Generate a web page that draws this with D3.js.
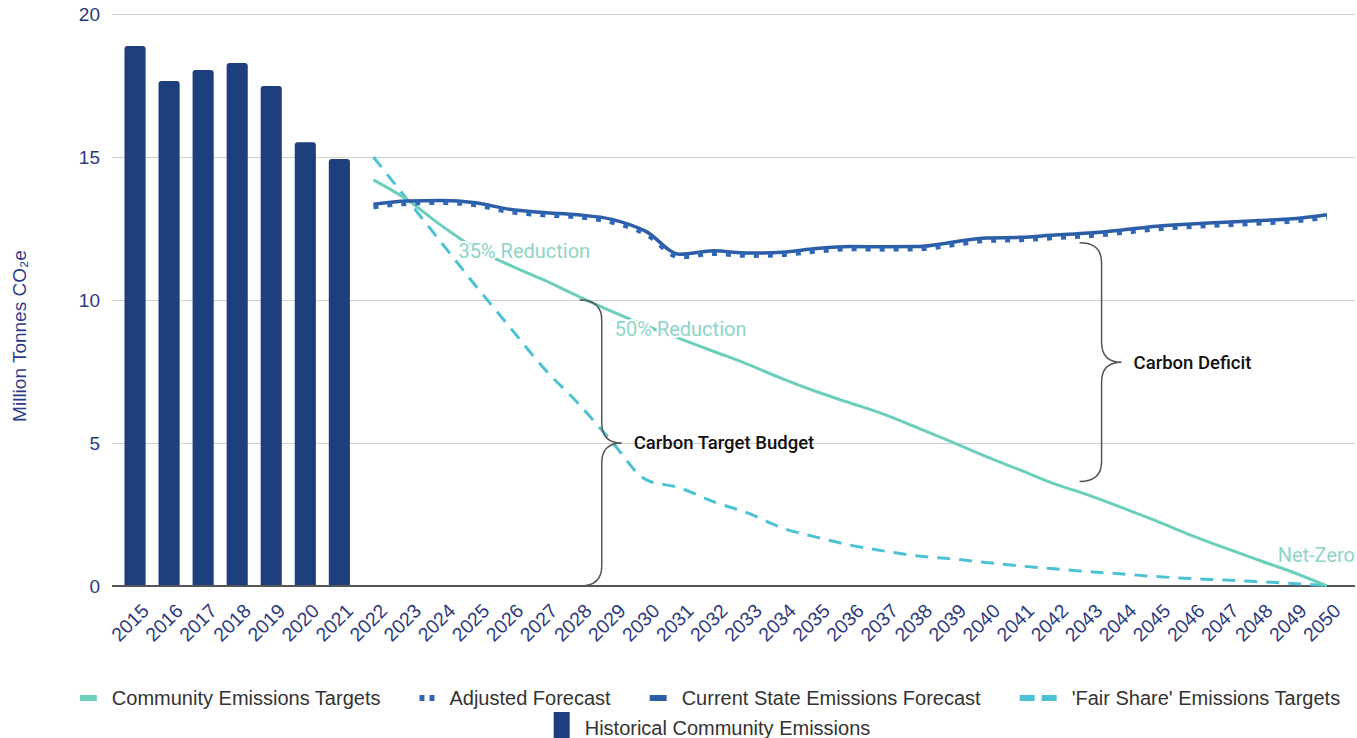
<!DOCTYPE html>
<html>
<head>
<meta charset="utf-8">
<script src="https://cdn.jsdelivr.net/npm/d3@7"></script>
<style>
  body { margin: 0; background: #fff; }
  svg { display: block; }
</style>
</head>
<body>
<div id="chart"></div>
<script>
// ---- data ----
const allYears = ["2015","2016","2017","2018","2019","2020","2021","2022","2023","2024","2025",
  "2026","2027","2028","2029","2030","2031","2032","2033","2034","2035","2036","2037","2038",
  "2039","2040","2041","2042","2043","2044","2045","2046","2047","2048","2049","2050"];

const histYears = ["2015","2016","2017","2018","2019","2020","2021"];
const histValues = [18.88, 17.66, 18.04, 18.29, 17.48, 15.52, 14.93];

const forecastYears = ["2022","2023","2024","2025","2026","2027","2028","2029","2030","2031",
  "2032","2033","2034","2035","2036","2037","2038","2039","2040","2041","2042","2043","2044",
  "2045","2046","2047","2048","2049","2050"];

const currentState = [13.35, 13.46, 13.48, 13.40, 13.17, 13.06, 12.98, 12.82, 12.40, 11.60,
  11.72, 11.64, 11.67, 11.80, 11.87, 11.86, 11.87, 12.02, 12.17, 12.19, 12.27, 12.34, 12.45,
  12.58, 12.66, 12.72, 12.78, 12.84, 12.98];

const adjustedForecast = [13.25, 13.37, 13.40, 13.32, 13.08, 12.97, 12.90, 12.72, 12.30, 11.50,
  11.62, 11.55, 11.58, 11.70, 11.78, 11.77, 11.78, 11.92, 12.07, 12.10, 12.17, 12.24, 12.35,
  12.48, 12.56, 12.62, 12.68, 12.75, 12.88];

const communityTargets = [14.20, 13.50, 12.60, 11.80, 11.22, 10.70, 10.14, 9.60, 9.10, 8.65,
  8.20, 7.75, 7.25, 6.80, 6.40, 6.00, 5.52, 5.03, 4.52, 4.05, 3.57, 3.18, 2.73,
  2.27, 1.78, 1.33, 0.90, 0.48, 0.00];

const fairShare = [15.00, 13.50, 12.00, 10.50, 9.06, 7.62, 6.40, 5.05, 3.72, 3.43,
  2.94, 2.55, 2.03, 1.71, 1.43, 1.22, 1.05, 0.95, 0.82, 0.70, 0.60, 0.50, 0.42,
  0.33, 0.26, 0.21, 0.15, 0.09, 0.02];

const yTicks = [0, 5, 10, 15, 20];

const milestones = [
  { label: "35% Reduction", year: "2024", value: 11.72, dx: 17 },
  { label: "50% Reduction", year: "2029", value: 8.98, dx: 3 }
];
const netZero = { label: "Net-Zero", year: "2050", value: 1.08 };

const braces = [
  { label: "Carbon Target Budget", year: "2028", dx: 2, top: 10, bottom: 0 },
  { label: "Carbon Deficit", year: "2043", dx: -9, top: 12.0, bottom: 3.65 }
];

const legendItems = [
  { name: "Community Emissions Targets", kind: "line", color: "#6ccfbc" },
  { name: "Adjusted Forecast", kind: "dots", color: "#2f66b8" },
  { name: "Current State Emissions Forecast", kind: "line", color: "#2c5ea8" },
  { name: "'Fair Share' Emissions Targets", kind: "dash", color: "#4dc2d4" }
];
const legendItems2 = [
  { name: "Historical Community Emissions", kind: "box", color: "#1d3f7e" }
];

// ---- chart ----
const W = 1357, H = 738;
const plot = { left: 112, right: 1355, top: 14, bottom: 586 };
const tickColor = "#2d3a80";

const svg = d3.select("#chart").append("svg")
  .attr("width", W)
  .attr("height", H)
  .style("font-family", "'Liberation Sans', Arial, sans-serif");

svg.append("rect").attr("width", W).attr("height", H).attr("fill", "#fff");

const x = d3.scaleBand()
  .domain(allYears)
  .range([118, 1344])
  .paddingInner(0.38)
  .paddingOuter(0.19);
const cx = d => x(d) + x.bandwidth() / 2;

const y = d3.scaleLinear()
  .domain([0, 20])
  .range([plot.bottom, plot.top]);

// gridlines
svg.append("g")
  .attr("class", "grid")
  .attr("transform", `translate(${plot.left},0)`)
  .call(d3.axisLeft(y).tickValues(yTicks).tickSize(-(plot.right - plot.left)).tickFormat(""))
  .call(g => g.select(".domain").remove())
  .call(g => g.selectAll("line").attr("stroke", "#cfcfcf").attr("stroke-width", 1));

// y tick labels
svg.append("g")
  .attr("transform", `translate(${plot.left},0)`)
  .call(d3.axisLeft(y).tickValues(yTicks).tickSize(0).tickPadding(12))
  .call(g => g.select(".domain").remove())
  .call(g => g.selectAll("text")
    .attr("fill", tickColor)
    .style("font-size", "19px")
    .style("font-family", "'Liberation Sans', Arial, sans-serif"));

// y axis title
svg.append("text")
  .attr("transform", `translate(26,${(plot.top + plot.bottom) / 2 + 36}) rotate(-90)`)
  .attr("text-anchor", "middle")
  .attr("fill", "#2b3b8a")
  .style("font-size", "19px")
  .text("Million Tonnes CO\u2082e");

// bars with rounded tops
const r = 3;
svg.append("g").selectAll("path")
  .data(histYears.map((d, i) => ({ year: d, value: histValues[i] })))
  .join("path")
  .attr("fill", "#1d3f7e")
  .attr("d", d => {
    const x0 = x(d.year), w = x.bandwidth(), y0 = y(d.value), yb = y(0);
    return `M${x0},${yb} V${y0 + r} Q${x0},${y0} ${x0 + r},${y0} H${x0 + w - r} Q${x0 + w},${y0} ${x0 + w},${y0 + r} V${yb} Z`;
  });

// x axis labels
const xAxis = svg.append("g")
  .attr("transform", `translate(0,${plot.bottom})`)
  .call(d3.axisBottom(x).tickSize(0).tickPadding(6));
xAxis.select(".domain").remove();
xAxis.selectAll("text")
  .attr("fill", tickColor)
  .style("font-size", "19.5px")
  .style("font-family", "'Liberation Sans', Arial, sans-serif")
  .style("text-anchor", "end")
  .attr("dy", "0.35em")
  .attr("transform", "translate(6,17) rotate(-45)");

svg.append("line")
  .attr("x1", plot.left).attr("x2", plot.right)
  .attr("y1", y(0)).attr("y2", y(0))
  .attr("stroke", "#555").attr("stroke-width", 2);

// lines
const line = d3.line()
  .x(d => cx(d.year))
  .y(d => y(d.value))
  .curve(d3.curveMonotoneX);
const series = vals => forecastYears.map((d, i) => ({ year: d, value: vals[i] }));

svg.append("path")
  .datum(series(fairShare))
  .attr("fill", "none")
  .attr("stroke", "#4dc2d4")
  .attr("stroke-width", 3)
  .attr("stroke-dasharray", "13,9")
  .attr("d", line);

svg.append("path")
  .datum(series(communityTargets))
  .attr("fill", "none")
  .attr("stroke", "#6ccfbc")
  .attr("stroke-width", 3)
  .attr("d", line);

svg.append("path")
  .datum(series(currentState))
  .attr("fill", "none")
  .attr("stroke", "#2c5ea8")
  .attr("stroke-width", 3.5)
  .attr("d", line);

svg.append("path")
  .datum(series(adjustedForecast))
  .attr("fill", "none")
  .attr("stroke", "#2f66b8")
  .attr("stroke-width", 4.5)
  .attr("stroke-dasharray", "5,9")
  .attr("d", line);

// milestone labels
svg.append("g").selectAll("text")
  .data(milestones)
  .join("text")
  .attr("x", d => cx(d.year) + d.dx)
  .attr("y", d => y(d.value))
  .attr("dy", "0.35em")
  .attr("fill", "#8dd5c8")
  .attr("stroke", "#fff")
  .attr("stroke-width", 4)
  .attr("paint-order", "stroke")
  .style("font-family", "Roboto, sans-serif")
  .style("font-size", "20px")
  .text(d => d.label);

svg.append("text")
  .attr("x", plot.right)
  .attr("y", y(netZero.value))
  .attr("dy", "0.35em")
  .attr("text-anchor", "end")
  .attr("fill", "#8dd5c8")
  .style("font-family", "Roboto, sans-serif")
  .style("font-size", "20px")
  .text(netZero.label);

// braces
braces.forEach(b => {
  const x0 = cx(b.year) + b.dx;
  const xv = x0 + 22, xt = xv + 20;
  const yt = y(b.top), yb = y(b.bottom), ym = (yt + yb) / 2;
  const rr = 20;
  const d = `M${x0},${yt} Q${xv},${yt} ${xv},${yt + rr} V${ym - rr} Q${xv},${ym} ${xt},${ym}` +
            ` Q${xv},${ym} ${xv},${ym + rr} V${yb - rr} Q${xv},${yb} ${x0},${yb}`;
  svg.append("path")
    .attr("d", d)
    .attr("fill", "none")
    .attr("stroke", "#555")
    .attr("stroke-width", 1.5);
  svg.append("text")
    .attr("x", xt + 12)
    .attr("y", ym)
    .attr("dy", "0.35em")
    .attr("fill", "#111")
    .style("font-family", "Roboto, sans-serif")
    .style("font-weight", 500)
    .style("font-size", "18.5px")
    .text(b.label);
});

// legend
function drawLegend(items, cy, centerX, gap) {
  const g = svg.append("g");
  let xpos = 0;
  items.forEach(it => {
    const ig = g.append("g").attr("transform", `translate(${xpos},0)`);
    let sw = 0;
    if (it.kind === "line") {
      ig.append("rect").attr("x", 0).attr("y", cy - 3).attr("width", 17).attr("height", 6).attr("fill", it.color);
      sw = 17;
    } else if (it.kind === "dots") {
      [0, 10].forEach(o => ig.append("rect").attr("x", o).attr("y", cy - 3).attr("width", 5).attr("height", 6).attr("fill", it.color));
      sw = 15;
    } else if (it.kind === "dash") {
      [0, 22].forEach(o => ig.append("rect").attr("x", o).attr("y", cy - 3).attr("width", 15).attr("height", 6).attr("fill", it.color));
      sw = 37;
    } else {
      ig.append("rect").attr("x", 0).attr("y", cy - 16).attr("width", 16).attr("height", 32).attr("fill", it.color);
      sw = 16;
    }
    const t = ig.append("text")
      .attr("x", sw + 15)
      .attr("y", cy)
      .attr("dy", "0.35em")
      .attr("fill", "#333")
      .style("font-size", "20px")
      .text(it.name);
    xpos += sw + 15 + t.node().getComputedTextLength() + gap;
  });
  const total = xpos - gap;
  g.attr("transform", `translate(${centerX - total / 2},0)`);
}
drawLegend(legendItems, 698, 710, 39);
drawLegend(legendItems2, 728, 712, 39);
</script>
</body>
</html>
